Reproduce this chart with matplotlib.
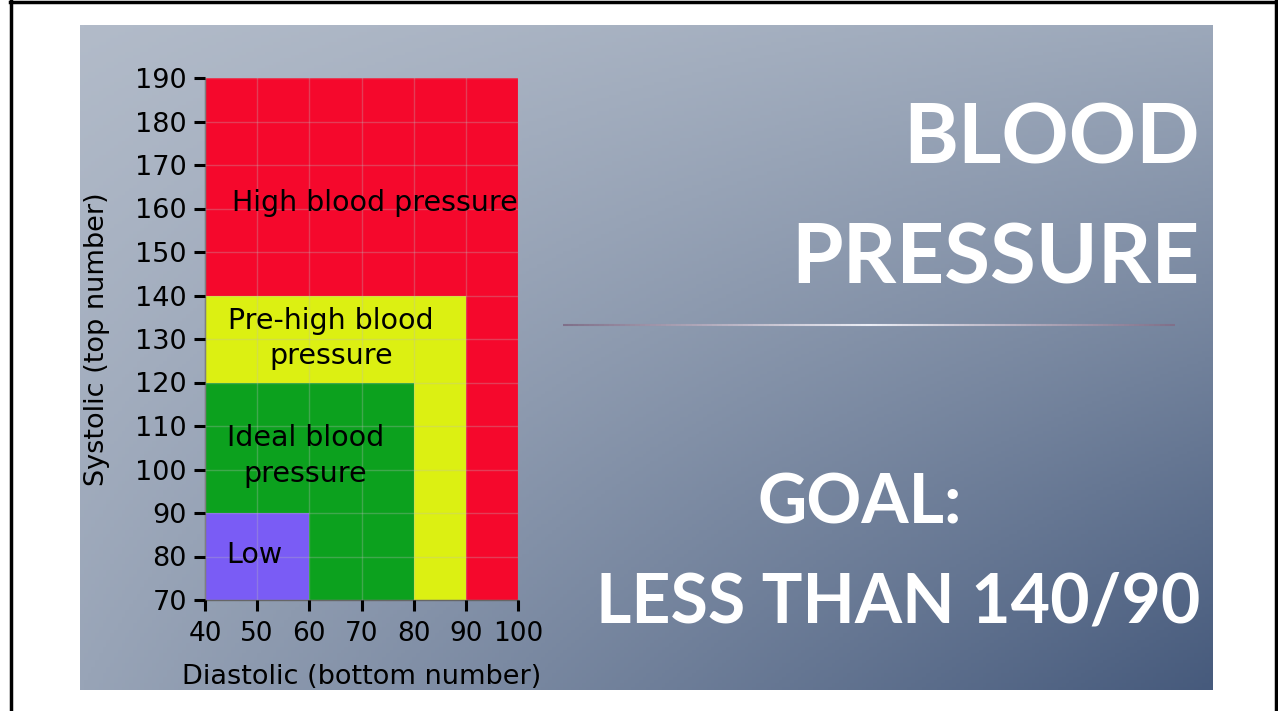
import numpy as np
import matplotlib
matplotlib.use('Agg')
import matplotlib.pyplot as plt
from matplotlib.lines import Line2D
from matplotlib.collections import LineCollection

W, H = 1278, 711

# Zonas do gráfico (diastólica máx, sistólica máx)
zone_names = ['High blood pressure', 'Pre-high blood\npressure', 'Ideal blood\npressure', 'Low']
zone_dia_max = [100, 90, 80, 60]
zone_sys_max = [190, 140, 120, 90]
zone_colors = ['#F5082C', '#DCF012', '#0CA11E', '#7A5CF5']
label_x = [45.2, 64.2, 59.2, 49.4]
label_y = [161.3, 130.2, 103.1, 80.3]
label_ha = ['left', 'center', 'center', 'center']

x_ticks = [40, 50, 60, 70, 80, 90, 100]
y_ticks = [70, 80, 90, 100, 110, 120, 130, 140, 150, 160, 170, 180, 190]

title_lines = ['BLOOD', 'PRESSURE']
goal_lines = ['GOAL:', 'LESS THAN 140/90']


def px(x, y):
    # pixel -> fração da figura
    return x / W, 1 - y / H


fig = plt.figure(figsize=(W / 100, H / 100), dpi=100)
fig.patch.set_facecolor('white')

# Fundo com gradiente
bg = fig.add_axes([80 / W, 1 - 690 / H, (1213 - 80) / W, (690 - 25) / H])
tl = np.array([178, 187, 201]) / 255
tr = np.array([156, 168, 186]) / 255
bl = np.array([152, 164, 183]) / 255
br = np.array([70, 90, 124]) / 255
u = np.linspace(0, 1, 300)[None, :, None]
v = np.linspace(0, 1, 200)[:, None, None]
grad = (1 - u) * (1 - v) * tl + u * (1 - v) * tr + (1 - u) * v * bl + u * v * br
bg.imshow(grad, aspect='auto', extent=[0, 1, 0, 1], origin='upper')
bg.axis('off')

# Gráfico das zonas
ax = fig.add_axes([205 / W, 1 - 600 / H, 313 / W, 522 / H])
ax.set_facecolor('none')
for dmax, smax, c in zip(zone_dia_max, zone_sys_max, zone_colors):
    ax.bar(40, smax - 70, width=dmax - 40, bottom=70, align='edge', color=c, linewidth=0, zorder=1)

for name, x, y, ha in zip(zone_names, label_x, label_y, label_ha):
    ax.text(x, y, name, ha=ha, va='center', fontsize=20.5, color='black',
            linespacing=1.32, zorder=3)

ax.set_xlim(40, 100)
ax.set_ylim(70, 190)
ax.set_xticks(x_ticks)
ax.set_yticks(y_ticks)
ax.grid(True, color='#bbbbbb', alpha=0.3, linewidth=1)
ax.set_axisbelow(False)
for s in ['top', 'right']:
    ax.spines[s].set_visible(False)
ax.spines['left'].set_color('#666666')
ax.spines['left'].set_linewidth(1)
ax.spines['bottom'].set_color('#666666')
ax.spines['bottom'].set_linewidth(1)
ax.tick_params(axis='y', length=8, width=2.2, color='black', labelsize=19.5, pad=5)
ax.tick_params(axis='x', length=8, width=2.2, color='black', labelsize=19, pad=7)
ax.set_xlabel('Diastolic (bottom number)', fontsize=19.5)
ax.set_ylabel('Systolic (top number)', fontsize=19.5)
ax.xaxis.set_label_coords(0.499, (600 - 664) / 522)
ax.yaxis.set_label_coords((110 - 205) / 313, 0.5)

# Títulos à direita
for txt, y in zip(title_lines, [163, 283]):
    fig.text(*px(1200, y), txt, ha='right', va='baseline', fontsize=60,
             fontweight='bold', family='Lato', color='white')
fig.text(*px(757, 523), goal_lines[0], ha='left', va='baseline', fontsize=49,
         fontweight='bold', family='Lato', color='white')
fig.text(*px(1200, 622), goal_lines[1], ha='right', va='baseline', fontsize=49,
         fontweight='bold', family='Lato', color='white')

# Linha separadora com gradiente
xs = np.linspace(563, 1175, 120)
segs = [[px(xs[i], 325), px(xs[i + 1], 325)] for i in range(len(xs) - 1)]
t = np.abs(np.linspace(-1, 1, len(segs)))[:, None]
c_end = np.array([0.50, 0.44, 0.54])
c_mid = np.array([0.92, 0.93, 0.96])
cols = t * c_end + (1 - t) * c_mid
fig.add_artist(LineCollection(segs, colors=cols, linewidths=1.5, transform=fig.transFigure))

# Moldura preta
fig.add_artist(Line2D([10 / W, 1276 / W], [1 - 1.5 / H, 1 - 1.5 / H], color='black', lw=2.5, transform=fig.transFigure))
fig.add_artist(Line2D([10.5 / W, 10.5 / W], [0, 1], color='black', lw=2.5, transform=fig.transFigure))
fig.add_artist(Line2D([1275.5 / W, 1275.5 / W], [0, 1], color='black', lw=2.5, transform=fig.transFigure))

fig.savefig('out.png', dpi=100)
